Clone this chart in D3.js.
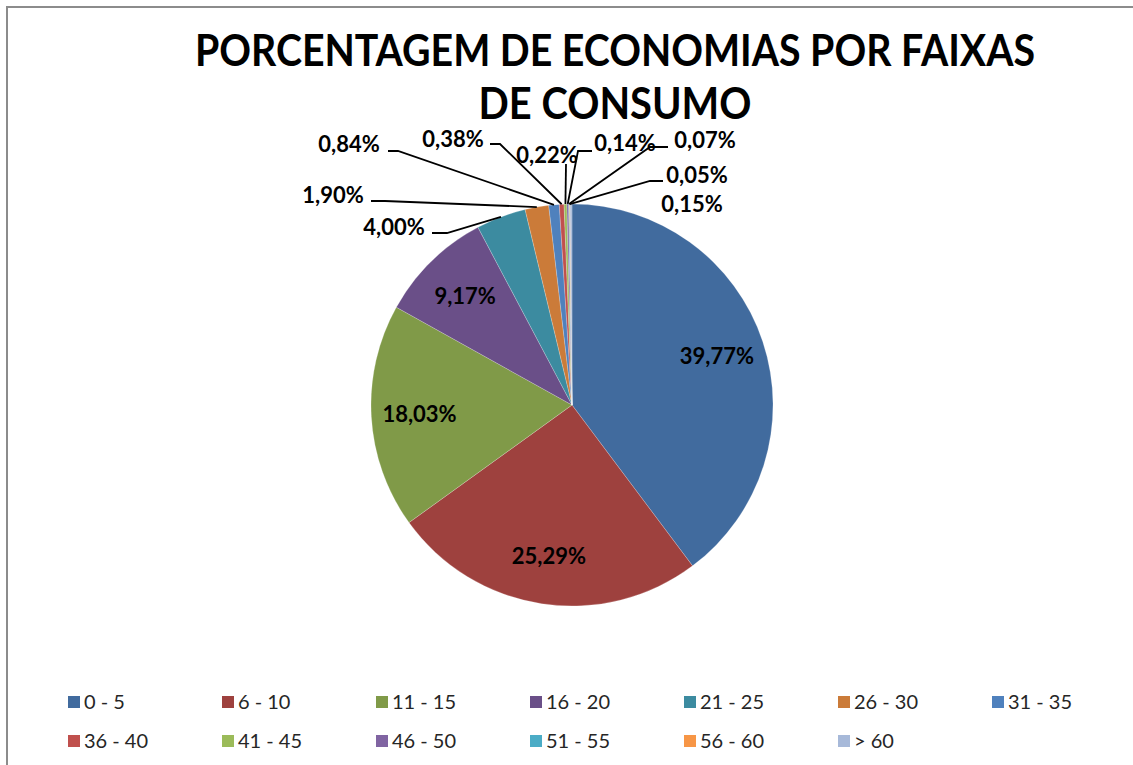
<!DOCTYPE html>
<html>
<head>
<meta charset="utf-8">
<script src="https://cdn.jsdelivr.net/npm/d3@7"></script>
<style>
  html, body { margin: 0; padding: 0; background: #ffffff; }
  svg { display: block; }
</style>
</head>
<body>
<svg id="chart" width="1133" height="765"></svg>
<script>
// Porcentagem de economias por faixas de consumo

var faixas = ["0 - 5", "6 - 10", "11 - 15", "16 - 20", "21 - 25", "26 - 30", "31 - 35",
              "36 - 40", "41 - 45", "46 - 50", "51 - 55", "56 - 60", "> 60"];
var percentuais = [39.77, 25.29, 18.03, 9.17, 4.00, 1.90, 0.84, 0.38, 0.22, 0.14, 0.07, 0.05, 0.15];
var rotulos = ["39,77%", "25,29%", "18,03%", "9,17%", "4,00%", "1,90%", "0,84%",
               "0,38%", "0,22%", "0,14%", "0,07%", "0,05%", "0,15%"];
var titulo = ["PORCENTAGEM DE ECONOMIAS POR FAIXAS", "DE CONSUMO"];

var cores = ["#416b9e", "#9e413e", "#809a48", "#6a4f88", "#3c8ba0", "#cb7b39", "#4f81bd",
             "#c0504d", "#9bbb59", "#8064a2", "#4bacc6", "#f79646", "#a7b9d9"];

// rótulos externos: posição do texto e da linha de chamada
var externos = [
    null, null, null, null,
    { tx: 394, ty: 227, ax: 432, ay: 233, ex: 447 },
    { tx: 333, ty: 195, ax: 371, ay: 201, ex: 385 },
    { tx: 349, ty: 144, ax: 388, ay: 151, ex: 398 },
    { tx: 453, ty: 139, ax: 490, ay: 144, ex: 500 },
    { tx: 547, ty: 155, ax: 566, ay: 164, ex: 566 },
    { tx: 625, ty: 143, ax: 592, ay: 151, ex: 578 },
    { tx: 705, ty: 140, ax: 668, ay: 147, ex: 650 },
    { tx: 697, ty: 175, ax: 663, ay: 181, ex: 650 },
    { tx: 692, ty: 204 }
];

var svg = d3.select("#chart");
var fonte = "Lato, 'Open Sans', 'DejaVu Sans', sans-serif";

// moldura
svg.append("path")
    .attr("d", "M7,765 L7,7 L1133,7")
    .attr("fill", "none")
    .attr("stroke", "#8c8c8c")
    .attr("stroke-width", 2);

// título
svg.selectAll(".titulo")
    .data(titulo).enter()
    .append("text")
    .attr("class", "titulo")
    .attr("x", 615)
    .attr("y", function (d, i) { return 66 + i * 53; })
    .attr("text-anchor", "middle")
    .attr("textLength", function (d, i) { return i == 0 ? 840 : 273; })
    .attr("lengthAdjust", "spacingAndGlyphs")
    .attr("font-family", fonte)
    .attr("font-weight", "bold")
    .attr("font-size", "43px")
    .attr("fill", "#000")
    .text(function (d) { return d; });

var cx = 572, cy = 405, raio = 201;

var pie = d3.pie()
    .sort(null)
    .value(function (d) { return d; });

var arcos = pie(percentuais);

var arc = d3.arc()
    .innerRadius(0)
    .outerRadius(raio);

var arcBorda = d3.arc()
    .innerRadius(raio)
    .outerRadius(raio);

var arcRotulo = d3.arc()
    .innerRadius(raio * 0.76)
    .outerRadius(raio * 0.76);

var g = svg.append("g")
    .attr("transform", "translate(" + cx + "," + cy + ")");

g.selectAll(".fatia")
    .data(arcos).enter()
    .append("path")
    .attr("class", "fatia")
    .attr("d", arc)
    .attr("fill", function (d, i) { return cores[i]; })
    .attr("stroke", "#ffffff")
    .attr("stroke-opacity", 0.35)
    .attr("stroke-width", 0.6);

// linhas de chamada
var linha = d3.line();
svg.selectAll(".chamada")
    .data(arcos.filter(function (d) { return externos[d.index] && externos[d.index].ax; }))
    .enter()
    .append("path")
    .attr("class", "chamada")
    .attr("d", function (d) {
        var e = externos[d.index];
        var p = arcBorda.centroid(d);
        return linha([[cx + p[0], cy + p[1]], [e.ex, e.ay], [e.ax, e.ay]]);
    })
    .attr("fill", "none")
    .attr("stroke", "#000")
    .attr("stroke-width", 1.8);

// rótulos
svg.selectAll(".rotulo")
    .data(arcos).enter()
    .append("text")
    .attr("class", "rotulo")
    .attr("x", function (d) {
        var e = externos[d.index];
        return e ? e.tx : cx + arcRotulo.centroid(d)[0];
    })
    .attr("y", function (d) {
        var e = externos[d.index];
        return e ? e.ty : cy + arcRotulo.centroid(d)[1];
    })
    .attr("dy", "0.35em")
    .attr("text-anchor", "middle")
    .attr("font-family", fonte)
    .attr("font-weight", "bold")
    .attr("font-size", "22px")
    .attr("fill", "#000")
    .text(function (d) { return rotulos[d.index]; });

// legenda
var legenda = svg.append("g")
    .attr("class", "legenda")
    .attr("transform", "translate(68, 702)");

var item = legenda.selectAll(".item")
    .data(faixas).enter()
    .append("g")
    .attr("class", "item")
    .attr("transform", function (d, i) {
        return "translate(" + (i % 7) * 154 + "," + Math.floor(i / 7) * 39 + ")";
    });

item.append("rect")
    .attr("x", 0)
    .attr("y", -6)
    .attr("width", 12)
    .attr("height", 12)
    .attr("fill", function (d, i) { return cores[i]; });

item.append("text")
    .attr("x", 16)
    .attr("y", 0)
    .attr("dy", "0.35em")
    .attr("font-family", fonte)
    .attr("font-size", "20px")
    .attr("fill", "#262626")
    .text(function (d) { return d; });
</script>
</body>
</html>
